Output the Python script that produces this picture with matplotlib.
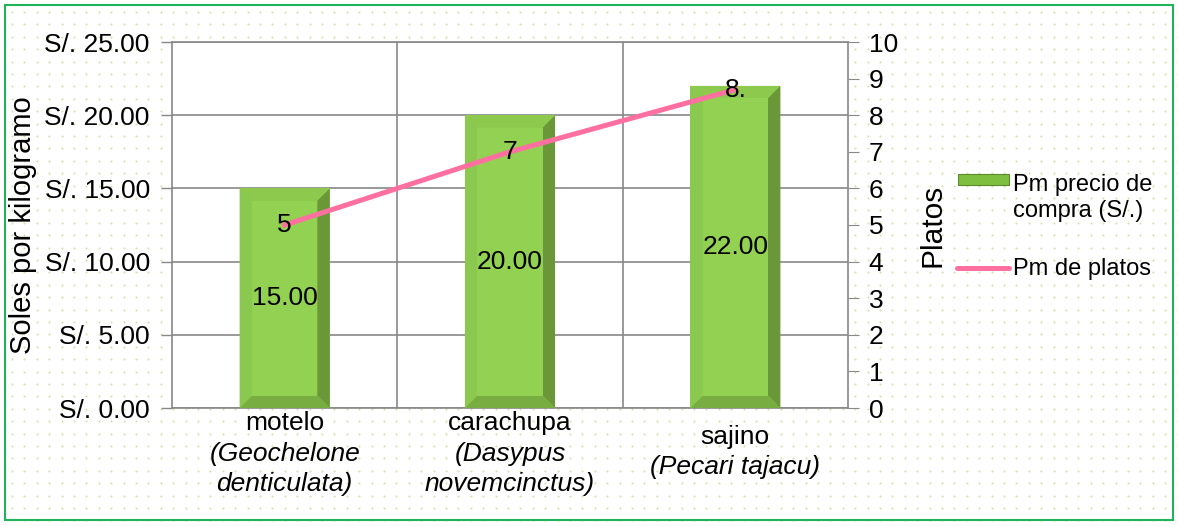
import numpy as np
import matplotlib
matplotlib.use('Agg')
import matplotlib.pyplot as plt
from matplotlib.patches import Polygon, Rectangle

plt.rcParams['font.family'] = ['Liberation Sans', 'DejaVu Sans']

common_names = ['motelo', 'carachupa', 'sajino']
latin_names = [['(Geochelone', 'denticulata)'],
               ['(Dasypus', 'novemcinctus)'],
               ['(Pecari tajacu)']]
precio = [15.00, 20.00, 22.00]
precio_labels = ['15.00', '20.00', '22.00']
platos = [5, 7, 8.7]
platos_labels = ['5', '7', '8.']
left_ticks = [0, 5, 10, 15, 20, 25]
left_ticklabels = ['S/. 0.00', 'S/. 5.00', 'S/. 10.00', 'S/. 15.00', 'S/. 20.00', 'S/. 25.00']
right_ticks = list(range(0, 11))

FS = 19

fig = plt.figure(figsize=(11.78, 5.25), dpi=100)

# dotted background
bg = fig.add_axes([0, 0, 1, 1], zorder=-10)
bg.set_xlim(0, 1178)
bg.set_ylim(525, 0)
bg.axis('off')
gx, gy = np.meshgrid(np.arange(12, 1178, 12.4), np.arange(12, 525, 12.4))
bg.scatter(gx.ravel(), gy.ravel(), s=2.2, color='#d3e1b0', linewidths=0)
bg.add_patch(Rectangle((5, 5), 1168, 515, fill=False, edgecolor='#1fb35a', linewidth=1.5))

ax = fig.add_axes([172 / 1178, 1 - 408 / 525, 676 / 1178, 366 / 525])
ax.set_facecolor('white')
x = np.arange(len(common_names))
bw = 0.4
bars = ax.bar(x, precio, width=bw, color='#92d050', zorder=3)

# bevel effect
bx = 0.055
by = 0.85
for b in bars:
    x0, y0 = b.get_x(), b.get_y()
    x1, y1 = x0 + b.get_width(), y0 + b.get_height()
    faces = [
        ([(x0, y1), (x1, y1), (x1 - bx, y1 - by), (x0 + bx, y1 - by)], '#8cc94d'),
        ([(x1, y1), (x1, y0), (x1 - bx, y0 + by), (x1 - bx, y1 - by)], '#6a9738'),
        ([(x0, y0), (x1, y0), (x1 - bx, y0 + by), (x0 + bx, y0 + by)], '#78ad42'),
        ([(x0, y1), (x0, y0), (x0 + bx, y0 + by), (x0 + bx, y1 - by)], '#8ac84f'),
    ]
    for pts, c in faces:
        ax.add_patch(Polygon(pts, closed=True, facecolor=c, edgecolor='none', zorder=3))
    ax.add_patch(Polygon([(x0 + bx, y1 - by), (x1 - bx, y1 - by), (x1 - bx, y0 + by), (x0 + bx, y0 + by)],
                         closed=True, facecolor='#93d152', edgecolor='none', zorder=3))

for xi, v, lab in zip(x, precio, precio_labels):
    ax.text(xi, v / 2, lab, ha='center', va='center', fontsize=FS, zorder=6)

ax.set_xlim(-0.5, 2.5)
ax.set_ylim(0, 25)
ax.set_yticks(left_ticks)
ax.set_yticklabels(left_ticklabels, fontsize=FS)
ax.set_xticks([0.5, 1.5])
ax.set_xticklabels([])
ax.tick_params(axis='x', length=0)
ax.tick_params(axis='y', length=8, width=1, color='#888888', pad=8)
ax.grid(color='#888888', linewidth=1.2, zorder=0)
ax.set_axisbelow(True)
for s in ax.spines.values():
    s.set_color('#888888')
    s.set_linewidth(1.2)
ax.set_ylabel('Soles por kilogramo', fontsize=21)
ax.yaxis.set_label_coords(-0.199, 0.5)

# category labels (common name + italic latin name)
xt = ax.get_xaxis_transform()
line_h = 30.5 / 366
for xi, name, latin in zip(x, common_names, latin_names):
    lines = [(name, 'normal')] + [(l, 'italic') for l in latin]
    n = len(lines)
    center = -(44 + 1.7 * (n - 2)) / 366
    for i, (txt, st) in enumerate(lines):
        yy = center - (i - (n - 1) / 2) * line_h
        ax.text(xi, yy, txt, transform=xt, ha='center', va='center', fontsize=FS, fontstyle=st)

ax2 = ax.twinx()
ax2.plot(x, platos, color='#ff6f9f', linewidth=3.6, zorder=5, label='Pm de platos')
ax2.set_ylim(0, 10)
ax2.set_yticks(right_ticks)
ax2.tick_params(axis='y', labelsize=FS, length=8, color='#888888', pad=7)
for s in ax2.spines.values():
    s.set_visible(False)
ax2.set_ylabel('Platos', fontsize=21.5)
ax2.yaxis.set_label_coords(1.105, 0.5)
for xi, v, lab in zip(x, platos, platos_labels):
    ax2.text(xi, v, lab, ha='center', va='center', fontsize=FS, zorder=7)

# legend
lg = fig.add_axes([955 / 1178, 1 - 290 / 525, 220 / 1178, 130 / 525])
lg.set_xlim(955, 1175)
lg.set_ylim(290, 160)
lg.axis('off')
lg.add_patch(Rectangle((958, 174), 51, 11, facecolor='#7fbf3f', edgecolor='#5a8a2a', linewidth=0.8))
lg.plot([957, 1009], [268, 268], color='#ff6f9f', linewidth=3.6, solid_capstyle='round')
lg.text(1013, 198, 'Pm precio de\ncompra (S/.)', fontsize=17, va='center', ha='left', linespacing=1.2)
lg.text(1013, 269, 'Pm de platos', fontsize=17, va='center', ha='left')

fig.savefig('out.png', dpi=100)
